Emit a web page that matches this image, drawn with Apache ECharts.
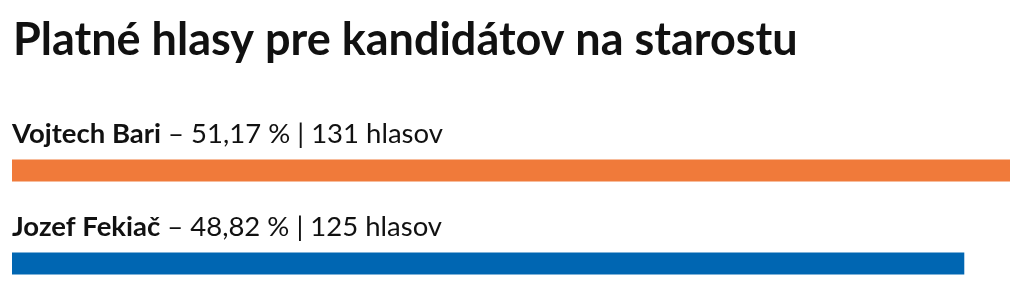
<!DOCTYPE html>
<html><head><meta charset="utf-8">
<script src="https://cdn.jsdelivr.net/npm/echarts@6/dist/echarts.min.js"></script>
<style>html,body{margin:0;padding:0;background:#fff}#c{width:1024px;height:295px}</style>
</head><body><div id="c"></div>
<script>
var titleText = 'Platné hlasy pre kandidátov na starostu';
var candidates = ['Vojtech Bari', 'Jozef Fekiač'];
var votes = [131, 125];
var percents = ['51,17', '48,82'];
var colors = ['#F07A3A', '#0066B2'];

var chart = echarts.init(document.getElementById('c'));
chart.setOption({
  backgroundColor: '#fff',
  animation: false,
  title: {
    text: titleText, left: 8, top: 13,
    textStyle: { fontFamily: 'Lato', fontWeight: 'bold', fontSize: 45, color: '#111' }
  },
  grid: { left: 12, right: 14, top: 124, height: 186, outerBoundsMode: 'none', containLabel: false },
  xAxis: { type: 'value', min: 0, max: 'dataMax', show: false },
  yAxis: { type: 'category', data: candidates, inverse: true, show: false },
  series: [{
    type: 'bar',
    barWidth: 22,
    data: votes.map(function (v, i) { return { value: v, itemStyle: { color: colors[i] } }; }),
    label: {
      show: true,
      position: [0, -11],
      align: 'left',
      verticalAlign: 'bottom',
      formatter: function (p) {
        return '{b|' + candidates[p.dataIndex] + '}{n| – ' + percents[p.dataIndex] + ' % | ' + votes[p.dataIndex] + ' hlasov}';
      },
      rich: {
        b: { fontFamily: 'Lato', fontWeight: 'bold', fontSize: 27.5, color: '#111' },
        n: { fontFamily: 'Lato', fontSize: 27.5, color: '#111' }
      }
    }
  }]
});
</script></body></html>
